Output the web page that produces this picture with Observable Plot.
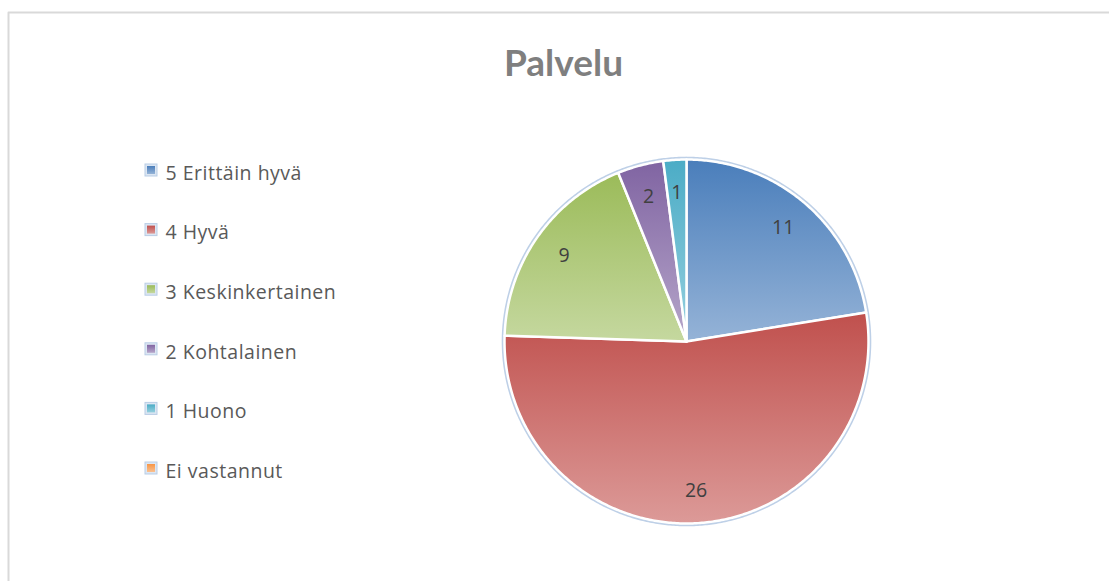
<!DOCTYPE html>
<html>
<head>
<meta charset="utf-8">
<script src="https://cdn.jsdelivr.net/npm/d3@7"></script>
<script src="https://cdn.jsdelivr.net/npm/@observablehq/plot@0.6"></script>
<style>
  html, body { margin: 0; padding: 0; background: #ffffff; }
  #chart { position: relative; width: 1109px; height: 581px; }
  .legend-text text { letter-spacing: 0.5px; }
</style>
</head>
<body>
<div id="chart"></div>
<script>
// ---- data ----
const title = "Palvelu";
const categories = ["5 Erittäin hyvä", "4 Hyvä", "3 Keskinkertainen", "2 Kohtalainen", "1 Huono", "Ei vastannut"];
const values = [11, 26, 9, 2, 1, 0];
const colorsTop = ["#4a7ebb", "#c0504d", "#9bbb59", "#8064a2", "#4bacc6", "#f79646"];
const colorsBottom = ["#95b3d7", "#dc9a98", "#c5d89f", "#b6a6ca", "#96d0df", "#fac090"];

// ---- layout ----
const W = 1109, H = 581;
const cx = 686, cy = 341, R = 182;
const labelFrac = 0.82;
const legendX = 145, legendY0 = 164, legendStep = 59.6, sq = 12;
const font = "Lato, 'Open Sans', sans-serif";
const font2 = "'Open Sans', Lato, sans-serif";

const pie = d3.pie().sort(null).value(d => d.value).startAngle(0).endAngle(2 * Math.PI);
const table = categories.map((c, i) => ({category: c, value: values[i], i}));
const arcs = pie(table);

// slice polygons in pixel-identity data space
const slicePts = [];
arcs.forEach((a, k) => {
  if (a.data.value <= 0) return;
  const n = Math.max(2, Math.ceil((a.endAngle - a.startAngle) / 0.01));
  slicePts.push({i: k, x: cx, y: cy});
  for (let j = 0; j <= n; j++) {
    const t = a.startAngle + (a.endAngle - a.startAngle) * j / n;
    slicePts.push({i: k, x: cx + R * Math.sin(t), y: cy - R * Math.cos(t)});
  }
  slicePts.push({i: k, x: cx, y: cy});
});
const rimPts = d3.range(0, 629).map(j => {
  const t = j / 100;
  return {x: cx + (R + 1.3) * Math.sin(t), y: cy - (R + 1.3) * Math.cos(t)};
});
const labels = arcs.filter(a => a.data.value > 0).map(a => {
  const m = (a.startAngle + a.endAngle) / 2;
  return {text: String(a.data.value), x: cx + R * labelFrac * Math.sin(m), y: cy - R * labelFrac * Math.cos(m)};
});
const legend = table.map((d, k) => ({...d, y: legendY0 + k * legendStep}));

const plot = Plot.plot({
  width: W,
  height: H,
  margin: 0,
  x: {type: "linear", domain: [0, W], range: [0, W], axis: null},
  y: {type: "linear", domain: [0, H], range: [0, H], axis: null},
  color: {type: "identity"},
  style: {background: "transparent"},
  marks: [
    // chart area border (top & left visible)
    Plot.line([{x: 8, y: H + 5}, {x: 8, y: 12}, {x: W + 5, y: 12}], {x: "x", y: "y", stroke: "#d9d9d9", strokeWidth: 2}),
    // title
    Plot.text([title], {x: 563, y: 64, text: d => d, fontSize: 37, fontWeight: "bold", fill: "#7f7f7f", fontFamily: font}),
    // pie rim
    Plot.line(rimPts, {x: "x", y: "y", stroke: "#bed0e7", strokeWidth: 3}),
    // slices
    Plot.line(slicePts, {x: "x", y: "y", z: "i", fill: d => `url(#grad${d.i})`, stroke: "#ffffff", strokeWidth: 2.5, strokeLinejoin: "round"}),
    // data labels
    Plot.text(labels, {x: "x", y: "y", text: "text", fontSize: 19.5, fill: "#404040", fontFamily: font2}),
    // legend swatches
    Plot.rect(legend, {x1: legendX, x2: legendX + sq, y1: d => d.y, y2: d => d.y + sq, fill: "#dce6f2", stroke: "#b9cde5", strokeWidth: 1}),
    Plot.rect(legend, {x1: legendX + 2, x2: legendX + sq - 2, y1: d => d.y + 2, y2: d => d.y + sq - 2, fill: d => `url(#lgrad${d.i})`}),
    // legend text
    Plot.text(legend, {x: legendX + sq + 8, y: d => d.y + sq / 2 + 3, text: "category", textAnchor: "start", fontSize: 19.5, fill: "#595959", fontFamily: font2, className: "legend-text"})
  ]
});

// gradients
const defs = d3.select(plot).insert("defs", ":first-child");
colorsTop.forEach((c, k) => {
  for (const id of [`grad${k}`, `lgrad${k}`]) {
    const g = defs.append("linearGradient").attr("id", id).attr("x1", 0).attr("y1", 0).attr("x2", 0).attr("y2", 1);
    g.append("stop").attr("offset", "0%").attr("stop-color", c);
    g.append("stop").attr("offset", "100%").attr("stop-color", colorsBottom[k]);
  }
});
d3.select(plot).selectAll(".legend-text text").style("letter-spacing", "0.5px");

document.getElementById("chart").appendChild(plot);
</script>
</body>
</html>
